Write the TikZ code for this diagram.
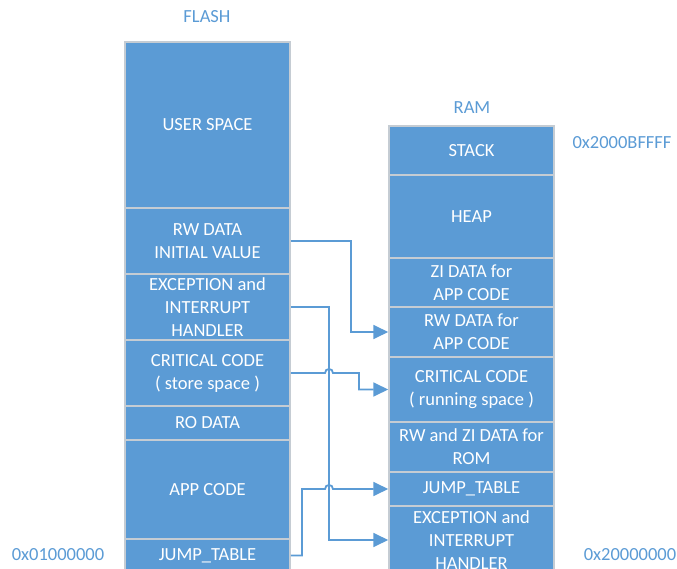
\documentclass[tikz,border=0pt]{standalone}
\usepackage{fontspec}
\setmainfont{Carlito}
\usetikzlibrary{arrows.meta}
\definecolor{blu}{HTML}{5B9BD5}
\definecolor{edgegray}{HTML}{C5CCD3}
\begin{document}
\begin{tikzpicture}[x=1pt,y=-1pt,
  mem/.style={rectangle, draw=edgegray, line width=1.5pt, fill=blu, text=white, minimum width=165pt, inner sep=0pt, align=center, font=\fontsize{18.5}{23}\selectfont},
  lbl/.style={text=blu, font=\fontsize{18.5}{23}\selectfont},
  link/.style={draw=blu, line width=1.8pt, -{Triangle[length=15pt,width=14pt]}}]
\useasboundingbox (0,0) rectangle (677,569);
\clip (0,0) rectangle (677,569);
% FLASH column
\node[mem, minimum height=166pt] (us) at (207.5,125) {USER SPACE};
\node[mem, minimum height=66pt] (rw) at (207.5,241) {RW DATA\\INITIAL VALUE};
\node[mem, minimum height=66pt] (exc) at (207.5,307) {EXCEPTION and\\INTERRUPT\\HANDLER};
\node[mem, minimum height=66pt] (cc) at (207.5,373) {CRITICAL CODE\\( store space )};
\node[mem, minimum height=34pt] (ro) at (207.5,423) {RO DATA};
\node[mem, minimum height=99pt] (app) at (207.5,489.5) {APP CODE};
\node[mem, minimum height=33pt] (jt) at (207.5,555.5) {JUMP\_TABLE};
% RAM column
\node[mem, minimum height=49pt] (stack) at (471.5,150.5) {STACK};
\node[mem, minimum height=83pt] (heap) at (471.5,216.5) {HEAP};
\node[mem, minimum height=49pt] (zi) at (471.5,282.5) {ZI DATA for\\APP CODE};
\node[mem, minimum height=50pt] (rwa) at (471.5,332) {RW DATA for\\APP CODE};
\node[mem, minimum height=65pt] (ccr) at (471.5,389.5) {CRITICAL CODE\\( running space )};
\node[mem, minimum height=50pt] (rwzi) at (471.5,447) {RW and ZI DATA for\\ROM};
\node[mem, minimum height=34pt] (jtr) at (471.5,489) {JUMP\_TABLE};
\node[mem, minimum height=68pt] (excr) at (471.5,540) {EXCEPTION and\\INTERRUPT\\HANDLER};
% labels
\node[lbl] (flash) at (207,17) {FLASH};
\node[lbl] (ram) at (472,108) {RAM};
\node[lbl] (a1) at (622,143) {0x2000BFFFF};
\node[lbl] (a2) at (58,555) {0x01000000};
\node[lbl] (a3) at (630,555) {0x20000000};
% connectors
\draw[link] (rw.east) -- (351,241) |- (rwa.west);
\draw[link] (exc.east) -- (329,307) |- (excr.west);
\draw[link] (cc.east) -- (325,373) .. controls (325,367.7) and (333,367.7) .. (333,373) -- (359,373) |- (ccr.west);
\draw[link] (jt.east) -- (302,555.5) -- (302,489) -- (325,489) .. controls (325,483.7) and (333,483.7) .. (333,489) -- (jtr.west);
\end{tikzpicture}
\end{document}
